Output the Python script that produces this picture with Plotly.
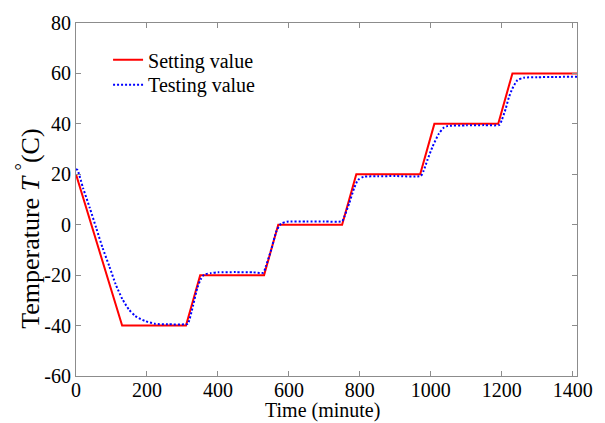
import plotly.graph_objects as go

# Setting value (red solid)
set_time = [0, 130, 310, 350, 530, 570, 750, 790, 970, 1010, 1190, 1230, 1412]
set_temp = [20, -40, -40, -20, -20, 0, 0, 20, 20, 40, 40, 60, 60]

# Testing value (blue dotted)
test_time = [0, 4, 20, 39, 57, 75, 94, 112, 131, 149, 167, 195, 223, 259, 306,
             315, 330, 342, 352, 361, 380, 400, 450, 500, 528,
             535, 549, 565, 575, 581, 595, 650, 700, 750,
             757, 770, 784, 795, 811, 850, 900, 972,
             980, 990, 1005, 1023, 1035, 1046, 1100, 1150, 1193,
             1200, 1211, 1220, 1230, 1244, 1262, 1300, 1350, 1412]
test_temp = [22.0, 21.7, 14.5, 6.6, -1.3, -9.2, -16.5, -23.7, -29.6, -33.6, -36.2, -38.2, -39.3, -39.5, -39.5,
             -39.3, -32, -25, -21.5, -19.8, -19.2, -18.9, -18.8, -18.9, -19.0,
             -16.5, -10.5, -2.5, 0.0, 0.6, 1.2, 1.3, 1.3, 1.4,
             3.5, 8.5, 14.5, 17.8, 19.0, 19.2, 19.3, 19.4,
             21.5, 25.5, 31.0, 36.2, 38.3, 39.1, 39.4, 39.5, 39.6,
             41.5, 46.0, 50.5, 54.0, 57.3, 58.3, 58.5, 58.6, 58.7]

x_ticks = [0, 200, 400, 600, 800, 1000, 1200, 1400]
x_ticklabels = ["0", "200", "400", "600", "800", "1000", "1200", "1400"]
y_ticks = [-60, -40, -20, 0, 20, 40, 60, 80]
y_ticklabels = ["-60", "-40", "-20", "0", "20", "40", "60", "80"]

FONT = "Liberation Serif, Times New Roman, serif"
AXC = "#8c8c8c"

fig = go.Figure()
fig.add_trace(go.Scatter(x=set_time, y=set_temp, mode="lines", name="Setting value",
                         line=dict(color="#ff0000", width=2), legend="legend"))
fig.add_trace(go.Scatter(x=test_time, y=test_temp, mode="lines", name="Testing value",
                         line=dict(color="#0000ff", width=2, dash="2px,2px", shape="spline", smoothing=0.6),
                         legend="legend2"))

axis_common = dict(showline=True, linecolor=AXC, linewidth=1, mirror="allticks",
                   ticks="inside", ticklen=5, tickcolor=AXC, tickwidth=1,
                   showgrid=False, zeroline=False,
                   tickfont=dict(family=FONT, size=20, color="black"))

leg_common = dict(xanchor="left", yanchor="middle", bgcolor="rgba(0,0,0,0)",
                  font=dict(family=FONT, size=20, color="black"), itemwidth=30)

fig.update_layout(
    width=605, height=423,
    margin=dict(l=76, r=17, t=21, b=47),
    paper_bgcolor="white", plot_bgcolor="white",
    font=dict(family=FONT, size=20, color="black"),
    showlegend=True,
    legend=dict(x=0.064, y=(376 - 58) / 355, **leg_common),
    legend2=dict(x=0.064, y=(376 - 83) / 355, **leg_common),
    xaxis=dict(range=[0, 1412], tickvals=x_ticks, ticktext=x_ticklabels,
               ticklabelstandoff=-4, **axis_common),
    yaxis=dict(range=[-60, 80], tickvals=y_ticks, ticktext=y_ticklabels, **axis_common),
)

fig.add_annotation(text="Time (minute)", xref="paper", yref="paper",
                   x=(327.5 - 76) / 512, y=-(411 - 376) / 355, xanchor="center", yanchor="middle",
                   showarrow=False, font=dict(family=FONT, size=20, color="black"))
fig.add_annotation(text="Temperature <i>T</i> <sup>°</sup>(C)", xref="paper", yref="paper",
                   x=-(76 - 28) / 512, y=(376 - 228) / 355, xanchor="center", yanchor="middle",
                   textangle=-90, showarrow=False, font=dict(family=FONT, size=26, color="black"))

fig.write_html("out.html")
